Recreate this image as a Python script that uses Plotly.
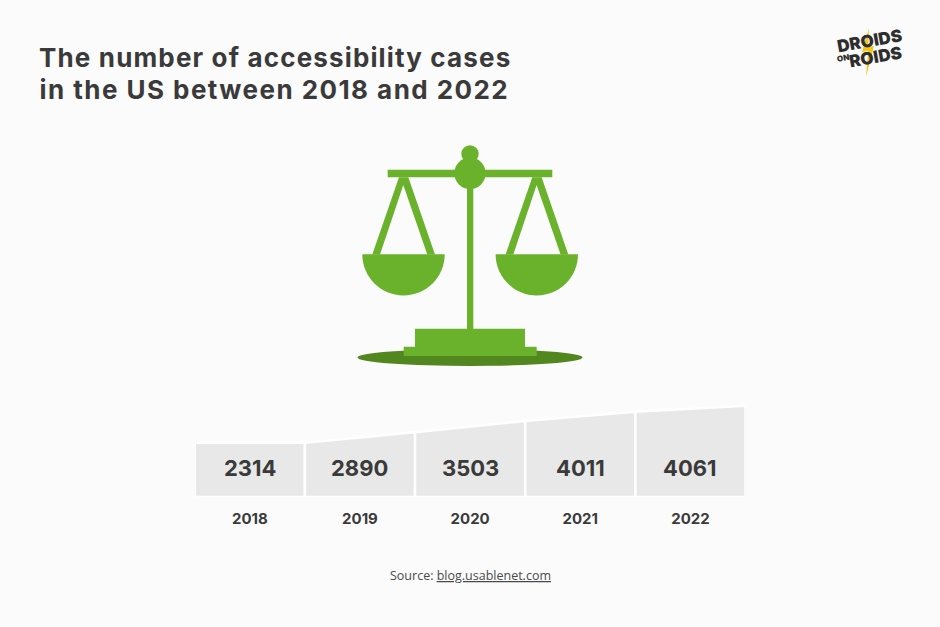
import plotly.graph_objects as go

W, H = 940, 627

years = ["2018", "2019", "2020", "2021", "2022"]
cases = [2314, 2890, 3503, 4011, 4061]
# top edge of the band, left to right in case units
# (the last band is drawn a bit taller than its value)
top_edge = [2314, 2314, 2890, 3503, 4011, 4340]

GREEN = "#6bb22c"
DARK_GREEN = "#52871f"
TEXT = "#3a3a3a"
LOGO = "#2e2e2e"
BAND = "#e8e8e8"
BG = "#fbfbfb"
YELLOW = "#f5c518"


def px(x):
    return x / W


def py(y):
    return 1 - y / H


def path(points):
    return "M " + " L ".join(f"{px(x):.5f},{py(y):.5f}" for x, y in points) + " Z"


def rect(x0, y0, x1, y1, color):
    return dict(type="rect", xref="paper", yref="paper", x0=px(x0), x1=px(x1), y0=py(y0), y1=py(y1),
                fillcolor=color, line_width=0, layer="below")


def circle(cx, cy, rx, ry, color):
    return dict(type="circle", xref="paper", yref="paper", x0=px(cx - rx), x1=px(cx + rx), y0=py(cy - ry), y1=py(cy + ry),
                fillcolor=color, line_width=0, layer="below")


def pan(cx, top, r):
    # half circle, two quarter beziers
    k = 0.5523 * r
    p = lambda x, y: f"{px(x):.5f},{py(y):.5f}"
    d = (f"M {p(cx - r, top)} L {p(cx + r, top)} "
         f"C {p(cx + r, top + k)} {p(cx + k, top + r)} {p(cx, top + r)} "
         f"C {p(cx - k, top + r)} {p(cx - r, top + k)} {p(cx - r, top)} Z")
    return dict(type="path", xref="paper", yref="paper", path=d, fillcolor=GREEN, line_width=0, layer="below")


def strings(dx):
    pts = [(399 + dx, 177.3), (408.3 + dx, 177.3), (435 + dx, 254.5), (427.3 + dx, 254.5),
           (403.3 + dx, 185), (380 + dx, 254.5), (372.3 + dx, 254.5)]
    return dict(type="path", xref="paper", yref="paper", path=path(pts), fillcolor=GREEN, line_width=0, layer="below")


def label(x, y, text, family, size, color=TEXT, xanchor="center", angle=0, weight=None):
    font = dict(family=family, size=size, color=color)
    if weight:
        font["weight"] = weight
    return dict(x=px(x), y=py(y), xref="paper", yref="paper", xanchor=xanchor, yanchor="middle", showarrow=False,
                textangle=angle, text=text, font=font)


shapes = [
    circle(470, 357.5, 112.5, 8.5, DARK_GREEN),
    rect(387.7, 169.7, 552.3, 177.3, GREEN),
    circle(470, 173.3, 15.7, 15.7, GREEN),
    circle(470, 154, 8.7, 8.7, GREEN),
    rect(467, 173, 473.3, 330, GREEN),
    rect(415, 328.7, 525, 356, GREEN),
    rect(403.7, 346.7, 536.7, 356, GREEN),
    strings(0),
    strings(133.3),
    pan(403.5, 254.3, 41.2),
    pan(536.8, 254.3, 41.2),
    # logo bolt
    dict(type="path", xref="paper", yref="paper", fillcolor=YELLOW, line_width=0, layer="below",
         path=path([(869, 28), (862, 52), (868, 51), (866, 77), (874, 46), (868, 47)])),
]

fig = go.Figure()

base = -658
for i, year in enumerate(years):
    fig.add_trace(go.Scatter(
        x=[i, i + 1, i + 1, i, i],
        y=[top_edge[i], top_edge[i + 1], base, base, top_edge[i]],
        mode="lines", fill="toself", fillcolor=BAND,
        line=dict(color="#ffffff", width=2.5),
        hoverinfo="skip", showlegend=False, name=year,
    ))

annotations = []
for i, val in enumerate(cases):
    annotations.append(dict(x=i + 0.5, xref="x", y=py(467.5), yref="paper", yanchor="middle", text=f"<b>{val}</b>",
                            showarrow=False, font=dict(family="Inter", size=22, color=TEXT)))

annotations += [
    # x is offset because the tracking below spreads the text around its middle
    label(55.5, 57, "<b>The number of accessibility cases</b>", "Inter", 26, xanchor="left"),
    label(60, 90, "<b>in the US between 2018 and 2022</b>", "Inter", 26, xanchor="left"),
    label(470, 575.5, "Source: <u>blog.usablenet.com</u>", "Open Sans", 12.5, color="#4a4a4a"),
    # logo
    label(869, 41.5, "DROIDS", "Inter", 17, color=LOGO, angle=-10, weight=900),
    label(875, 57, "ROIDS", "Inter", 17, color=LOGO, angle=-10, weight=900),
    label(842.5, 58, "ON", "Inter", 8, color=LOGO, angle=-10, weight=900),
]

fig.update_layout(
    width=W, height=H,
    margin=dict(l=0, r=0, t=0, b=0),
    paper_bgcolor=BG, plot_bgcolor="rgba(0,0,0,0)",
    shapes=shapes, annotations=annotations,
    xaxis=dict(domain=[px(194.75), px(745.5)], range=[0, 5], tickvals=[i + 0.5 for i in range(5)], ticktext=years,
               showgrid=False, zeroline=False, showline=False, ticks="", ticklabelstandoff=11,
               tickfont=dict(family="Inter", size=15, color=TEXT, weight="bold")),
    yaxis=dict(domain=[py(497), py(404.6)], range=[base, 4400], visible=False),
)

# no page margin, and the title is tracked out like the original's wider typeface
post = """
document.body.style.margin = '0';
document.querySelectorAll('.annotation-text').forEach(function (t) {
  if (t.textContent.indexOf('The number') === 0) { t.style.letterSpacing = '1.15px'; }
  if (t.textContent.indexOf('in the US') === 0) { t.style.letterSpacing = '1.45px'; }
});
"""
fig.write_html("out.html", post_script=post, config={"displayModeBar": False})
